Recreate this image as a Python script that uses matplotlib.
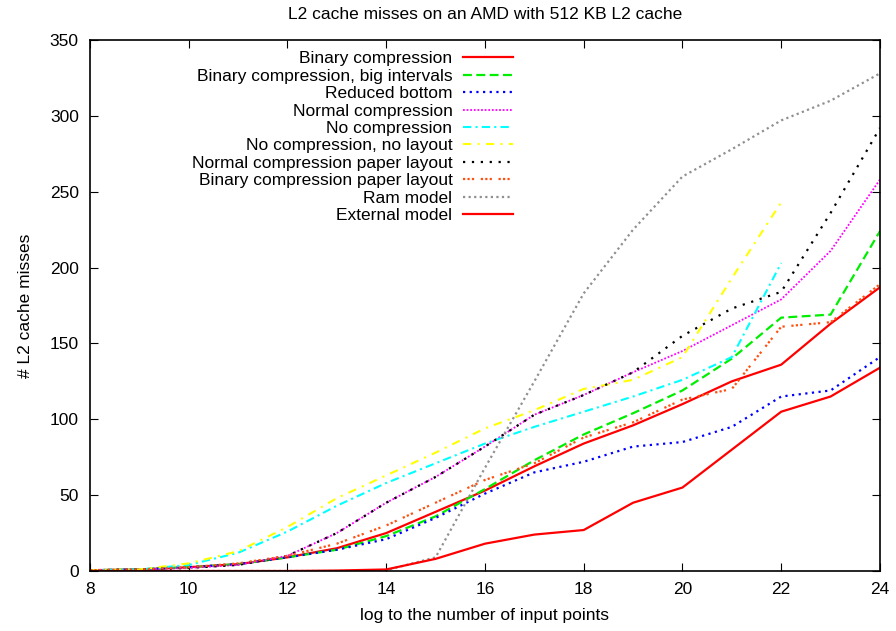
import matplotlib
matplotlib.use("Agg")
import matplotlib.pyplot as plt

plt.rcParams['font.family'] = ['Liberation Sans', 'DejaVu Sans']
plt.rcParams['font.size'] = 12.5

# log2 of number of input points
xs = [8, 9, 10, 11, 12, 13, 14, 15, 16, 17, 18, 19, 20, 21, 22, 23, 24]
xs_short = [8, 9, 10, 11, 12, 13, 14, 15, 16, 17, 18, 19, 20, 21, 22]

binary = [0.5, 1, 2.5, 4.5, 9, 15, 25, 39, 53, 69, 84, 96, 110, 125, 136, 163, 187]
big_intervals = [0.5, 1, 2.5, 4.5, 9, 14, 23, 36, 54, 73, 90, 104, 119, 140, 167, 169, 224]
reduced_bottom = [0.5, 1, 2.5, 4.5, 9, 14, 21, 35, 51, 65, 72, 82, 85, 95, 115, 119, 141]
normal = [0.5, 1, 2, 4, 10, 25, 45, 62, 82, 103, 116, 131, 145, 162, 179, 211, 258]
no_comp = [0.5, 1, 4, 12, 26, 43, 58, 71, 84, 95, 105, 115, 126, 141, 203]
no_comp_no_layout = [0.5, 1, 5, 13, 29, 48, 63, 78, 94, 106, 120, 126, 141, 193, 243]
normal_paper = [0.5, 1, 2, 4, 10, 25, 45, 62, 82, 103, 116, 131, 155, 173, 184, 236, 292]
binary_paper = [0.5, 1, 2.5, 5, 10, 18, 30, 45, 60, 71, 88, 98, 113, 120, 161, 164, 189]
ram_model = [0, 0, 0, 0, 0, 0, 0.5, 9, 68, 125, 183, 225, 260, 278, 297, 310, 328]
external_model = [0, 0, 0, 0, 0, 0.3, 1, 8, 18, 24, 27, 45, 55, 80, 105, 115, 134]

fig = plt.figure(figsize=(8.96, 6.31), dpi=100)
ax = fig.add_axes([0.1004, 0.0951, 0.8817, 0.8415])

ax.plot(xs, binary, color='#ff0000', lw=1.6, ls='-', label='Binary compression')
ax.plot(xs, big_intervals, color='#00ee00', lw=1.6, ls=(0, (4, 2)),
        label='Binary compression, big intervals')
ax.plot(xs, reduced_bottom, color='#0000ff', lw=1.6, ls=(0, (1, 2)), label='Reduced bottom')
ax.plot(xs, normal, color='#ff00ff', lw=1.3, ls=(0, (1, 1)), label='Normal compression')
ax.plot(xs_short, no_comp, color='#00ffff', lw=1.5, ls=(0, (4, 2, 1, 2)), label='No compression')
ax.plot(xs_short, no_comp_no_layout, color='#ffff00', lw=1.5, ls=(0, (4, 3, 1, 3)),
        label='No compression, no layout')
ax.plot(xs, normal_paper, color='#000000', lw=1.6, ls=(0, (1, 3)),
        label='Normal compression paper layout')
ax.plot(xs, binary_paper, color='#ff5010', lw=1.6, ls=(0, (1, 1, 1, 1, 1, 3)),
        label='Binary compression paper layout')
ax.plot(xs, ram_model, color='#909090', lw=1.6, ls=(0, (1, 1.5)), label='Ram model')
ax.plot(xs, external_model, color='#ff0000', lw=1.6, ls='-', label='External model')

ax.set_xlim(8, 24)
ax.set_ylim(0, 350)
ax.set_xticks(range(8, 25, 2))
ax.set_yticks(range(0, 351, 50))
ax.tick_params(direction='in', length=6, top=True, right=True, labelsize=12.5, pad=8)
for s in ax.spines.values():
    s.set_linewidth(1.2)

ax.set_title('L2 cache misses on an AMD with 512 KB L2 cache', fontsize=12.5, pad=15)
ax.set_xlabel('log to the number of input points', fontsize=12.5, labelpad=8)
ax.set_ylabel('# L2 cache misses', fontsize=12.5, labelpad=12)

leg = ax.legend(loc='upper right', bbox_to_anchor=(0.55, 1.0), frameon=False,
                markerfirst=False, handlelength=2.9, labelspacing=0.13,
                handletextpad=0.6, borderaxespad=0.25, fontsize=12.5)
# right-align the legend rows like gnuplot
for col in leg._legend_handle_box.get_children():
    col.align = 'right'

fig.savefig('out.png', dpi=100)
